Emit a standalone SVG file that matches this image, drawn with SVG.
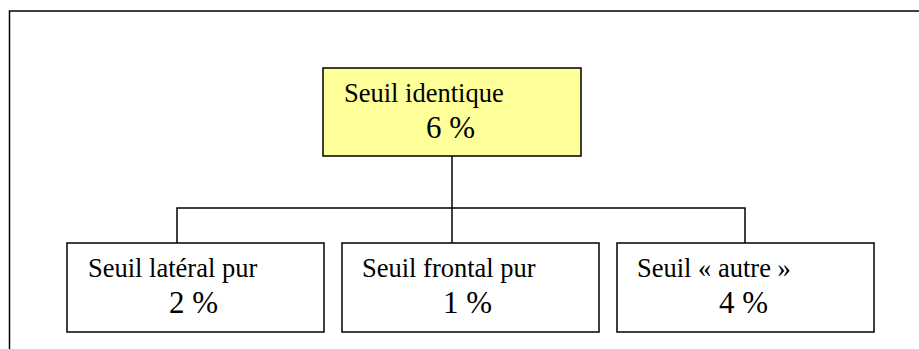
<svg xmlns="http://www.w3.org/2000/svg" width="919" height="349" viewBox="0 0 919 349">
<style>
.box{fill:#ffffff;stroke:#000000;stroke-width:1.5}
.top{fill:#ffff99;stroke:#000000;stroke-width:1.5}
.line{fill:none;stroke:#000000;stroke-width:1.5}
.t1{font-family:"Liberation Serif","Times New Roman",serif;font-size:26.5px;fill:#000000}
.t2{font-family:"Liberation Serif","Times New Roman",serif;font-size:31px;fill:#000000}
</style>
<rect x="0" y="0" width="919" height="349" fill="#ffffff"/>
<path class="line" d="M9.5,349 V11 H919"/>
<g id="connectors">
<path class="line" d="M452,156 V243"/>
<path class="line" d="M177,243 V208 H745 V243"/>
</g>
<g id="node-identique">
<rect class="top" x="323" y="68" width="258" height="88"/>
<text class="t1" x="344" y="102">Seuil identique</text>
<text class="t2" x="426" y="138">6 %</text>
</g>
<g id="node-lateral">
<rect class="box" x="67" y="243" width="257" height="89"/>
<text class="t1" x="88" y="277">Seuil latéral pur</text>
<text class="t2" x="169" y="313">2 %</text>
</g>
<g id="node-frontal">
<rect class="box" x="342" y="243" width="257" height="89"/>
<text class="t1" x="362" y="277">Seuil frontal pur</text>
<text class="t2" x="443" y="313">1 %</text>
</g>
<g id="node-autre">
<rect class="box" x="617" y="243" width="257" height="89"/>
<text class="t1" x="637" y="277">Seuil « autre »</text>
<text class="t2" x="719" y="313">4 %</text>
</g>
</svg>
